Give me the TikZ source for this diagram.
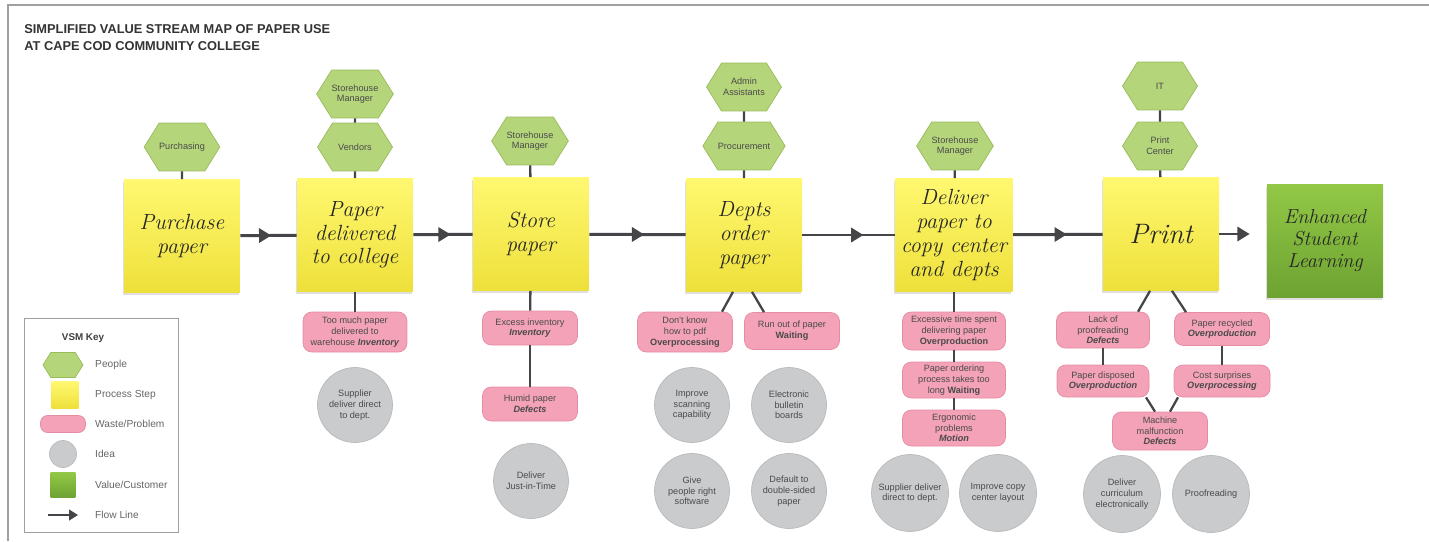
\documentclass[tikz,border=0pt]{standalone}
\usepackage{fontspec}
\setsansfont{Liberation Sans}
\usetikzlibrary{arrows.meta,positioning,calc,shapes.symbols,shadows,decorations.markings}

\definecolor{peoplefill}{HTML}{B5D57B}
\definecolor{peopleedge}{HTML}{98BC5A}
\definecolor{notetop}{HTML}{FFF870}
\definecolor{notebot}{HTML}{EEE03A}
\definecolor{valuetop}{HTML}{92C846}
\definecolor{valuebot}{HTML}{6EA232}
\definecolor{wastefill}{HTML}{F3A2B7}
\definecolor{wasteedge}{HTML}{E58BA3}
\definecolor{ideafill}{HTML}{CACBCD}
\definecolor{ideaedge}{HTML}{B9BABC}
\definecolor{linegray}{HTML}{454549}
\definecolor{txtgray}{HTML}{4A4A4A}
\definecolor{framegray}{HTML}{A0A0A0}

\newcommand{\vsmtext}{\sffamily\fontsize{5.2}{6.1}\selectfont}
\newcommand{\keytext}{\sffamily\fontsize{5.8}{7}\selectfont}
\newcommand{\notetext}{\rmfamily\itshape\fontsize{12.5}{13.5}\selectfont}

\begin{document}
\begin{tikzpicture}[x=0.02cm, y=-0.02cm,
  people/.style={signal, signal to=east and west, signal pointer angle=116,
    draw=peopleedge, fill=peoplefill, minimum width=1.5cm, minimum height=0.96cm,
    inner sep=0pt, align=center, text=txtgray, font=\vsmtext},
  stepnote/.style={rectangle, minimum width=2.32cm, minimum height=2.26cm,
    top color=notetop, bottom color=notebot,
    drop shadow={shadow xshift=-0.8pt, shadow yshift=-1.2pt, opacity=0.25},
    align=center, text=black!85, font=\notetext},
  valuenote/.style={stepnote, top color=valuetop, bottom color=valuebot},
  waste/.style={rectangle, rounded corners=5pt, draw=wasteedge, fill=wastefill,
    minimum width=1.9cm, minimum height=0.68cm, inner sep=1pt, align=center,
    text=txtgray, font=\vsmtext},
  idea/.style={circle, draw=ideaedge, fill=ideafill, minimum size=1.5cm,
    inner sep=0pt, align=center, text=txtgray, font=\vsmtext},
  link/.style={draw=linegray, line width=1.3pt},
  flow/.style={linegray, line width=1.7pt, postaction={decorate},
    decoration={markings, mark=at position #1 with {\arrow{Triangle[length=7pt,width=8pt]}}}},
  flow/.default=0.6,
  flowlast/.style={linegray, line width=1.7pt, -{Triangle[length=7pt,width=8pt]}},
  keybox/.style={draw=framegray, fill=white, minimum width=3.08cm, minimum height=4.28cm,
    drop shadow={shadow xshift=0.8pt, shadow yshift=-0.8pt, opacity=0.2}}
]
\useasboundingbox (0,0) rectangle (1429,541);
\draw[framegray, line width=1.5pt] (8,541) -- (8,5) -- (1429,5);

% title
\node[anchor=north west, align=left, inner sep=0pt, text=black!80,
  font=\sffamily\bfseries\fontsize{7.3}{9.6}\selectfont] (title) at (24,24)
  {SIMPLIFIED VALUE STREAM MAP OF PAPER USE\\AT CAPE COD COMMUNITY COLLEGE};

% process steps
\node[stepnote] (s1) at (182,236) {Purchase\\paper};
\node[stepnote] (s2) at (355,235) {Paper\\delivered\\to college};
\node[stepnote] (s3) at (531,234) {Store\\paper};
\node[stepnote] (s4) at (744,235) {Depts\\order\\paper};
\node[stepnote] (s5) at (954,235) {Deliver\\paper to\\copy center\\and depts};
\node[stepnote, font=\rmfamily\itshape\fontsize{16}{18}\selectfont] (s6) at (1161,234) {Print};
\node[valuenote, font=\rmfamily\itshape\fontsize{11.5}{12.5}\selectfont] (value) at (1325,241) {Enhanced\\Student\\Learning};

\draw[flow=0.55] (s1) -- (s2);
\draw[flow=0.63] (s2) -- (s3);
\draw[flow=0.57] (s3) -- (s4);
\draw[flow=0.66] (s4) -- (s5);
\draw[flow=0.6] (s5) -- (s6);
\draw[flowlast, shorten >=0.34cm] (s6.east) -- (s6.east -| value.west);

% people
\node[people] (h1) at (182,147) {Purchasing};
\node[people] (h2a) at (355,94) {Storehouse\\Manager};
\node[people] (h2b) at (355,147) {Vendors};
\node[people] (h3) at (530,141) {Storehouse\\Manager};
\node[people] (h4a) at (744,87) {Admin\\Assistants};
\node[people] (h4b) at (744,146) {Procurement};
\node[people] (h5) at (955,146) {Storehouse\\Manager};
\node[people] (h6a) at (1160,86) {IT};
\node[people] (h6b) at (1160,146) {Print\\Center};

\draw[link] (h1) -- (s1);
\draw[link] (h2a) -- (h2b);
\draw[link] (h2b) -- (s2);
\draw[link] (h3) -- (s3);
\draw[link] (h4a) -- (h4b);
\draw[link] (h4b) -- (s4);
\draw[link] (h5) -- (s5);
\draw[link] (h6a) -- (h6b);
\draw[link] (h6b) -- (s6);

% waste / problems
\node[waste, minimum width=2.08cm, minimum height=0.8cm] (w2) at (355,332) {Too much paper\\delivered to\\warehouse \textbf{\itshape Inventory}};
\node[waste] (w3a) at (530,328) {Excess inventory\\\textbf{\itshape Inventory}};
\node[waste] (w3b) at (530,404) {Humid paper\\\textbf{\itshape Defects}};
\node[waste, minimum height=0.8cm] (w4a) at (685,332) {Don't know\\how to pdf\\\textbf{Overprocessing}};
\node[waste, minimum height=0.74cm] (w4b) at (792,331) {Run out of paper\\\textbf{Waiting}};
\node[waste, minimum width=2.06cm, minimum height=0.76cm] (w5a) at (954,331) {Excessive time spent\\delivering paper\\\textbf{Overproduction}};
\node[waste, minimum width=2.06cm, minimum height=0.72cm] (w5b) at (954,380) {Paper ordering\\process takes too\\long \textbf{Waiting}};
\node[waste, minimum width=2.06cm, minimum height=0.72cm] (w5c) at (954,428) {Ergonomic\\problems\\\textbf{\itshape Motion}};
\node[waste, minimum width=1.86cm, minimum height=0.72cm] (w6a) at (1103,330) {Lack of\\proofreading\\\textbf{\itshape Defects}};
\node[waste, minimum height=0.66cm] (w6b) at (1222,329) {Paper recycled\\\textbf{\itshape Overproduction}};
\node[waste, minimum width=1.84cm, minimum height=0.64cm] (w6c) at (1103,381) {Paper disposed\\\textbf{\itshape Overproduction}};
\node[waste, minimum width=1.92cm, minimum height=0.64cm] (w6d) at (1222,381) {Cost surprises\\\textbf{\itshape Overprocessing}};
\node[waste, minimum height=0.76cm] (w6e) at (1160,431) {Machine\\malfunction\\\textbf{\itshape Defects}};

\draw[link] (s2) -- (w2);
\draw[link] (s3) -- (w3a);
\draw[link] (w3a) -- (w3b);
\draw[link] ($(s4.south)+(-11,0)$) -- ($(w4a.north)+(37,0)$);
\draw[link] ($(s4.south)+(8,0)$) -- ($(w4b.north)+(-28,0)$);
\draw[link] (s5) -- (w5a);
\draw[link] (w5a) -- (w5b);
\draw[link] (w5b) -- (w5c);
\draw[link] ($(s6.south)+(-11,0)$) -- ($(w6a.north)+(35,0)$);
\draw[link] ($(s6.south)+(11,0)$) -- ($(w6b.north)+(-36,0)$);
\draw[link] (w6a) -- (w6c);
\draw[link] (w6b) -- (w6d);
\draw[link] ($(w6c.south)+(43,0)$) -- ($(w6e.north)+(-5,0)$);
\draw[link] ($(w6d.south)+(-44,0)$) -- ($(w6e.north)+(10,0)$);

% ideas
\node[idea] (c2) at (355,405) {Supplier\\deliver direct\\to dept.};
\node[idea] (c3) at (531,481) {Deliver\\Just-in-Time};
\node[idea] (c4a) at (692,405) {Improve\\scanning\\capability};
\node[idea] (c4b) at (789,405) {Electronic\\bulletin\\boards};
\node[idea] (c4c) at (692,491) {Give\\people right\\software};
\node[idea] (c4d) at (789,491) {Default to\\double-sided\\paper};
\node[idea, minimum size=1.54cm] (c5a) at (910,493) {Supplier deliver\\direct to dept.};
\node[idea, minimum size=1.54cm] (c5b) at (998,493) {Improve copy\\center layout};
\node[idea, minimum size=1.54cm] (c6a) at (1122,494) {Deliver\\curriculum\\electronically};
\node[idea, minimum size=1.54cm] (c6b) at (1211,494) {Proofreading};

% key
\node[keybox] (key) at (101,425) {};
\node[font=\sffamily\bfseries\fontsize{5.6}{7}\selectfont, text=black!75] (keytitle) at (83,338) {VSM Key};
\node[people, minimum width=0.8cm, minimum height=0.5cm] (kpeople) at (63,365) {};
\node[rectangle, top color=notetop, bottom color=notebot, minimum size=0.54cm] (kstep) at (65,395) {};
\node[waste, minimum width=0.9cm, minimum height=0.34cm, rounded corners=4pt] (kwaste) at (63,424) {};
\node[idea, minimum size=0.54cm] (kidea) at (63,454) {};
\node[rectangle, top color=valuetop, bottom color=valuebot, minimum size=0.5cm] (kvalue) at (63,485) {};
\coordinate (kflowa) at (48,515);
\coordinate (kflowb) at (78,515);
\draw[flowlast, line width=1pt, -{Triangle[length=5pt,width=6pt]}] (kflowa) -- (kflowb);
\foreach \n/\t in {kpeople/People, kstep/Process Step, kwaste/Waste\slash Problem,
                   kidea/Idea, kvalue/Value\slash Customer, kflowb/Flow Line}
  \node[anchor=west, font=\keytext, text=black!60] at (89,0 |- \n) {\t};
\end{tikzpicture}
\end{document}
